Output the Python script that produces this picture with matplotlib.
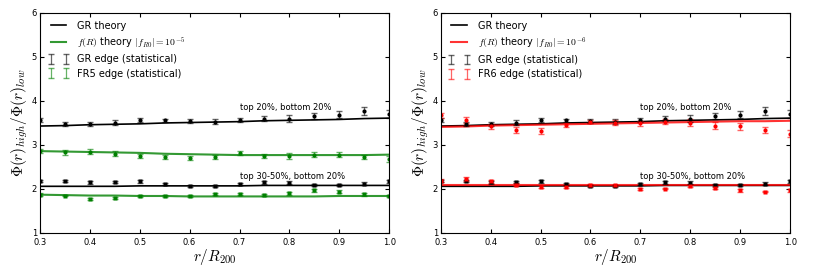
import numpy as np
import matplotlib
matplotlib.use("Agg")
import matplotlib.pyplot as plt

plt.rcParams['mathtext.fontset'] = 'cm'

# raios (r/R200) dos pontos e das curvas teoricas
r = [0.30, 0.35, 0.40, 0.45, 0.50, 0.55, 0.60, 0.65, 0.70, 0.75, 0.80, 0.85, 0.90, 0.95, 1.00]

# GR, top 20% / bottom 20%
gr_top = [3.57, 3.47, 3.48, 3.51, 3.57, 3.56, 3.55, 3.53, 3.57, 3.60, 3.60, 3.66, 3.69, 3.77, 3.71]
gr_top_err = [0.05, 0.05, 0.05, 0.05, 0.05, 0.04, 0.04, 0.05, 0.05, 0.06, 0.07, 0.07, 0.08, 0.09, 0.09]
gr_top_th = [3.43, 3.44, 3.46, 3.47, 3.48, 3.50, 3.51, 3.52, 3.53, 3.55, 3.56, 3.57, 3.58, 3.60, 3.61]

# GR, top 30-50% / bottom 20%
gr_mid = [2.18, 2.18, 2.15, 2.16, 2.17, 2.12, 2.06, 2.06, 2.11, 2.15, 2.14, 2.09, 2.09, 2.12, 2.17]
gr_mid_err = [0.03, 0.03, 0.03, 0.03, 0.03, 0.02, 0.02, 0.02, 0.02, 0.03, 0.03, 0.03, 0.03, 0.03, 0.03]
gr_mid_th = [2.06, 2.06, 2.06, 2.06, 2.07, 2.07, 2.07, 2.07, 2.07, 2.08, 2.08, 2.08, 2.08, 2.08, 2.08]

# FR5
fr5_top = [2.86, 2.83, 2.85, 2.80, 2.75, 2.72, 2.70, 2.73, 2.82, 2.75, 2.75, 2.78, 2.78, 2.72, 2.68]
fr5_top_err = [0.04, 0.05, 0.06, 0.06, 0.05, 0.05, 0.05, 0.05, 0.05, 0.05, 0.06, 0.06, 0.06, 0.05, 0.06]
fr5_top_th = [2.86, 2.85, 2.84, 2.83, 2.82, 2.80, 2.79, 2.78, 2.77, 2.77, 2.77, 2.77, 2.77, 2.77, 2.78]
fr5_mid = [1.87, 1.85, 1.78, 1.80, 1.84, 1.84, 1.84, 1.88, 1.88, 1.87, 1.90, 1.97, 1.94, 1.88, 1.84]
fr5_mid_err = [0.03, 0.02, 0.02, 0.02, 0.02, 0.02, 0.02, 0.02, 0.02, 0.02, 0.03, 0.03, 0.03, 0.03, 0.03]
fr5_mid_th = [1.87, 1.86, 1.85, 1.85, 1.84, 1.84, 1.83, 1.83, 1.83, 1.83, 1.83, 1.83, 1.84, 1.84, 1.84]

# FR6
fr6_top = [3.67, 3.57, 3.42, 3.34, 3.32, 3.45, 3.53, 3.51, 3.49, 3.53, 3.51, 3.44, 3.42, 3.34, 3.26]
fr6_top_err = [0.06, 0.06, 0.06, 0.06, 0.06, 0.05, 0.04, 0.05, 0.06, 0.06, 0.07, 0.08, 0.08, 0.07, 0.08]
fr6_top_th = [3.41, 3.42, 3.44, 3.45, 3.46, 3.47, 3.48, 3.49, 3.50, 3.51, 3.52, 3.53, 3.54, 3.54, 3.55]
fr6_mid = [2.19, 2.23, 2.17, 2.10, 2.05, 2.05, 2.09, 2.08, 2.00, 2.01, 2.07, 2.02, 1.97, 1.94, 1.97]
fr6_mid_err = [0.04, 0.04, 0.03, 0.03, 0.03, 0.02, 0.02, 0.02, 0.02, 0.02, 0.02, 0.03, 0.03, 0.02, 0.03]
fr6_mid_th = [2.08, 2.08, 2.08, 2.08, 2.08, 2.08, 2.08, 2.08, 2.08, 2.08, 2.08, 2.08, 2.08, 2.08, 2.08]

paineis = [
    ("g", r"$f(R)$ theory $|f_{R0}|=10^{-5}$", "FR5 edge (statistical)",
     fr5_top, fr5_top_err, fr5_top_th, fr5_mid, fr5_mid_err, fr5_mid_th),
    ("r", r"$f(R)$ theory $|f_{R0}|=10^{-6}$", "FR6 edge (statistical)",
     fr6_top, fr6_top_err, fr6_top_th, fr6_mid, fr6_mid_err, fr6_mid_th),
]

fig = plt.figure(figsize=(8.3, 2.76), dpi=100)
posicoes = [[0.048, 0.156, 0.421, 0.797], [0.531, 0.156, 0.421, 0.797]]

for pos, (cor, lab_th, lab_ed, t, te, tth, m, me, mth) in zip(posicoes, paineis):
    ax = fig.add_axes(pos)

    # curvas teoricas
    ax.plot(r, gr_top_th, color="k", lw=1.2, label="GR theory")
    ax.plot(r, gr_mid_th, color="k", lw=1.2)
    ax.plot(r, tth, color=cor, lw=1.5, alpha=0.8, label=lab_th)
    ax.plot(r, mth, color=cor, lw=1.5, alpha=0.8)

    # barras de erro (sem marcador) + pontos
    ax.errorbar(r, gr_top, yerr=gr_top_err, fmt="none", ecolor="k", alpha=0.6,
                elinewidth=0.9, capsize=2, label="GR edge (statistical)")
    ax.errorbar(r, t, yerr=te, fmt="none", ecolor=cor, alpha=0.6,
                elinewidth=0.9, capsize=2, label=lab_ed)
    ax.errorbar(r, gr_mid, yerr=gr_mid_err, fmt="none", ecolor="k", alpha=0.6,
                elinewidth=0.9, capsize=2)
    ax.errorbar(r, m, yerr=me, fmt="none", ecolor=cor, alpha=0.6,
                elinewidth=0.9, capsize=2)
    ax.plot(r, gr_top, "o", color="k", ms=3, mec="none")
    ax.plot(r, t, "o", color=cor, ms=3, mec="none")
    ax.plot(r, gr_mid, "s", color="k", ms=3, mec="none")
    ax.plot(r, m, "s", color=cor, ms=3, mec="none")

    ax.text(0.7, 3.79, "top 20%, bottom 20%", fontsize=6)
    ax.text(0.7, 2.22, "top 30-50%, bottom 20%", fontsize=6)

    ax.set_xlim(0.3, 1.0)
    ax.set_ylim(1, 6)
    ax.set_xticks(np.arange(0.3, 1.01, 0.1))
    ax.set_yticks([1, 2, 3, 4, 5, 6])
    ax.tick_params(direction="in", top=True, right=True, labelsize=6, length=3, pad=2)
    ax.tick_params(axis="x", pad=4)
    ax.set_xlabel(r"$r/R_{200}$", fontsize=11, labelpad=0)
    ax.set_ylabel(r"$\Phi(r)_{high}/\Phi(r)_{low}$", fontsize=11, labelpad=1)
    ax.legend(loc="upper left", frameon=False, fontsize=7, numpoints=2,
              handlelength=2.2, labelspacing=0.45, borderaxespad=0.4)

plt.savefig("out.png", dpi=100)
